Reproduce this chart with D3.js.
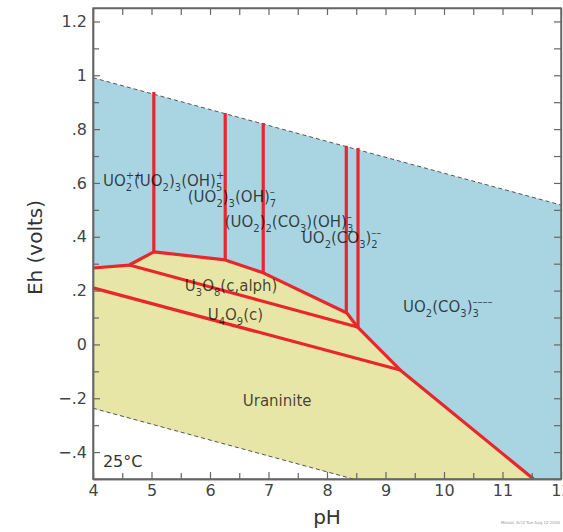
<!DOCTYPE html>
<html>
<head>
<meta charset="utf-8">
<script src="https://cdn.jsdelivr.net/npm/d3@7"></script>
<style>
  body { margin: 0; background: #fff; }
  svg { font-family: "DejaVu Sans", Verdana, sans-serif; }
</style>
</head>
<body>
<svg id="chart" width="563" height="532"></svg>
<script>
// axis ticks
const xMajor = [4, 5, 6, 7, 8, 9, 10, 11, 12]
const xMinor = [4.5, 5.5, 6.5, 7.5, 8.5, 9.5, 10.5, 11.5]
const yMajor = [-0.4, -0.2, 0, 0.2, 0.4, 0.6, 0.8, 1.0, 1.2]
const yLabels = ["\u2212.4", "\u2212.2", "0", ".2", ".4", ".6", ".8", "1", "1.2"]
const yMinor = [-0.5, -0.3, -0.1, 0.1, 0.3, 0.5, 0.7, 0.9, 1.1]

// water stability limits [pH, Eh]
const waterTop = [[4, 0.991], [12, 0.518]]
const waterBottom = [[4, -0.237], [8.45, -0.5]]

// boundary between aqueous species and solids
const solidEdge = [[4, 0.284], [4.62, 0.295], [5.04, 0.344], [6.26, 0.314], [6.91, 0.266],
                   [8.34, 0.117], [8.52, 0.065], [9.25, -0.095], [11.53, -0.5]]
const u3o8Lower = [[4.62, 0.295], [8.52, 0.065]]
const u4o9Lower = [[4, 0.21], [9.25, -0.095]]

// vertical aqueous boundaries
const vertPH = [5.04, 6.26, 6.91, 8.33, 8.53]
const vertBottom = [0.344, 0.314, 0.266, 0.117, 0.065]
const vertTop = [0.938, 0.86, 0.823, 0.738, 0.73]

// labels: [pH, Eh, segments]  segment: [text, kind]
const labels = [
  [4.17, 0.59, [["UO", "n"], ["2", "sub"], ["++", "supover"]]],
  [4.7, 0.59, [["(UO", "n"], ["2", "sub"], [")", "n"], ["3", "sub"], ["(OH)", "n"], ["5", "sub"], ["+", "supover"]]],
  [5.62, 0.53, [["(UO", "n"], ["2", "sub"], [")", "n"], ["3", "sub"], ["(OH)", "n"], ["7", "sub"], ["\u2013", "supover"]]],
  [6.25, 0.438, [["(UO", "n"], ["2", "sub"], [")", "n"], ["2", "sub"], ["(CO", "n"], ["3", "sub"], [")(OH)", "n"], ["3", "sub"], ["\u2013", "supover"]]],
  [7.57, 0.378, [["UO", "n"], ["2", "sub"], ["(CO", "n"], ["3", "sub"], [")", "n"], ["2", "sub"], ["\u2013\u2013", "supover"]]],
  [9.3, 0.12, [["UO", "n"], ["2", "sub"], ["(CO", "n"], ["3", "sub"], [")", "n"], ["3", "sub"], ["\u2013\u2013\u2013\u2013", "supover"]]],
  [5.57, 0.2, [["U", "n"], ["3", "sub"], ["O", "n"], ["8", "sub"], ["(c,alph)", "n"]]],
  [5.96, 0.092, [["U", "n"], ["4", "sub"], ["O", "n"], ["9", "sub"], ["(c)", "n"]]],
  [6.56, -0.23, [["Uraninite", "n"]]]
]

const svg = d3.select("#chart")
const plot = { left: 93, right: 561, top: 8, bottom: 479 }

const x = d3.scaleLinear().domain([4, 12]).range([plot.left, plot.right])
const y = d3.scaleLinear().domain([-0.5, 1.25]).range([plot.bottom, plot.top])

const line = d3.line().x(d => x(d[0])).y(d => y(d[1]))

// aqueous field (inside water stability)
const bluePoly = [...waterTop, [12, -0.5], ...waterBottom.slice().reverse()]
svg.append("path")
    .attr("d", line(bluePoly) + "Z")
    .attr("fill", "#a9d5e2")

// solid field
const yellowPoly = [...solidEdge, ...waterBottom.slice().reverse()]
svg.append("path")
    .attr("d", line(yellowPoly) + "Z")
    .attr("fill", "#e7e6a6")

// water lines
for (const w of [waterTop, waterBottom]) {
    svg.append("path")
        .attr("d", line(w))
        .attr("fill", "none")
        .attr("stroke", "#555")
        .attr("stroke-width", 1)
        .style("stroke-dasharray", "4, 3")
}

// red boundaries
const red = "#e8262b"
for (const seg of [solidEdge, u3o8Lower, u4o9Lower]) {
    svg.append("path")
        .attr("d", line(seg))
        .attr("fill", "none")
        .attr("stroke", red)
        .attr("stroke-width", 3.2)
        .attr("stroke-linejoin", "round")
}
vertPH.forEach((p, i) => {
    svg.append("path")
        .attr("d", line([[p, vertBottom[i]], [p, vertTop[i]]]))
        .attr("stroke", red)
        .attr("stroke-width", 3.2)
})

// species labels
const ctx = document.createElement("canvas").getContext("2d")
function textW(t, size) {
    ctx.font = size + "px 'DejaVu Sans'"
    return ctx.measureText(t).width
}
const fs = 15, small = 10
labels.forEach(([p, e, segs]) => {
    let cx = x(p)
    const base = y(e)
    let lastW = 0
    for (const [t, kind] of segs) {
        let ty = base, size = fs, px = cx
        if (kind == "sub") { size = small; ty = base + 5 }
        if (kind == "supover") { size = small; ty = base - 7; px = cx - lastW }
        svg.append("text")
            .attr("x", px).attr("y", ty)
            .attr("font-size", size)
            .attr("fill", "#000")
            .attr("fill-opacity", 0.72)
            .text(t)
        const w = textW(t, size)
        if (kind == "supover") cx = Math.max(cx, px + w)
        else cx += w
        lastW = kind == "sub" ? w : 0
    }
})

svg.append("text")
    .attr("x", x(4.17)).attr("y", 467)
    .attr("font-size", 16)
    .attr("fill", "#333")
    .text("25\u00B0C")

// frame and ticks
function styleAxis(g) {
    g.selectAll("path").attr("stroke", "#666").attr("stroke-width", 1.4)
    g.selectAll("line").attr("stroke", "#666").attr("stroke-width", 1.2)
    g.selectAll("text").attr("fill", "#444").attr("font-size", 16)
        .attr("font-family", "'DejaVu Sans', Verdana, sans-serif")
}
const yFmt = d => yLabels[yMajor.indexOf(d)]

svg.append("g").attr("transform", `translate(0,${plot.bottom})`)
    .call(d3.axisBottom(x).tickValues(xMajor).tickSize(-7).tickSizeOuter(0).tickPadding(6).tickFormat(d3.format("d")))
    .call(styleAxis)
svg.append("g").attr("transform", `translate(0,${plot.bottom})`)
    .call(d3.axisBottom(x).tickValues(xMinor).tickSize(-6).tickSizeOuter(0).tickFormat(""))
    .call(styleAxis)
svg.append("g").attr("transform", `translate(0,${plot.top})`)
    .call(d3.axisTop(x).tickValues([...xMajor, ...xMinor]).tickSize(-7).tickSizeOuter(0).tickFormat(""))
    .call(styleAxis)
svg.append("g").attr("transform", `translate(${plot.left},0)`)
    .call(d3.axisLeft(y).tickValues(yMajor).tickSize(-7).tickSizeOuter(0).tickPadding(6).tickFormat(yFmt))
    .call(styleAxis)
svg.append("g").attr("transform", `translate(${plot.left},0)`)
    .call(d3.axisLeft(y).tickValues(yMinor).tickSize(-6).tickSizeOuter(0).tickFormat(""))
    .call(styleAxis)
svg.append("g").attr("transform", `translate(${plot.right},0)`)
    .call(d3.axisRight(y).tickValues([...yMajor, ...yMinor]).tickSize(-7).tickSizeOuter(0).tickFormat(""))
    .call(styleAxis)

svg.append("rect")
    .attr("x", plot.left).attr("y", plot.top)
    .attr("width", plot.right - plot.left).attr("height", plot.bottom - plot.top)
    .attr("fill", "none").attr("stroke", "#666").attr("stroke-width", 1.4)

// axis titles
svg.append("text")
    .attr("x", x(8)).attr("y", 524)
    .attr("text-anchor", "middle")
    .attr("font-size", 20)
    .attr("fill", "#333")
    .text("pH")
svg.append("text")
    .attr("transform", `translate(42,${y(0.36)}) rotate(-90)`)
    .attr("text-anchor", "middle")
    .attr("font-size", 20)
    .attr("fill", "#333")
    .text("Eh (volts)")

svg.append("text")
    .attr("x", 560).attr("y", 524)
    .attr("text-anchor", "end")
    .attr("font-size", 4)
    .attr("fill", "#999")
    .text("Mosaic   Act2   Tue Aug 12 2000")
</script>
</body>
</html>
